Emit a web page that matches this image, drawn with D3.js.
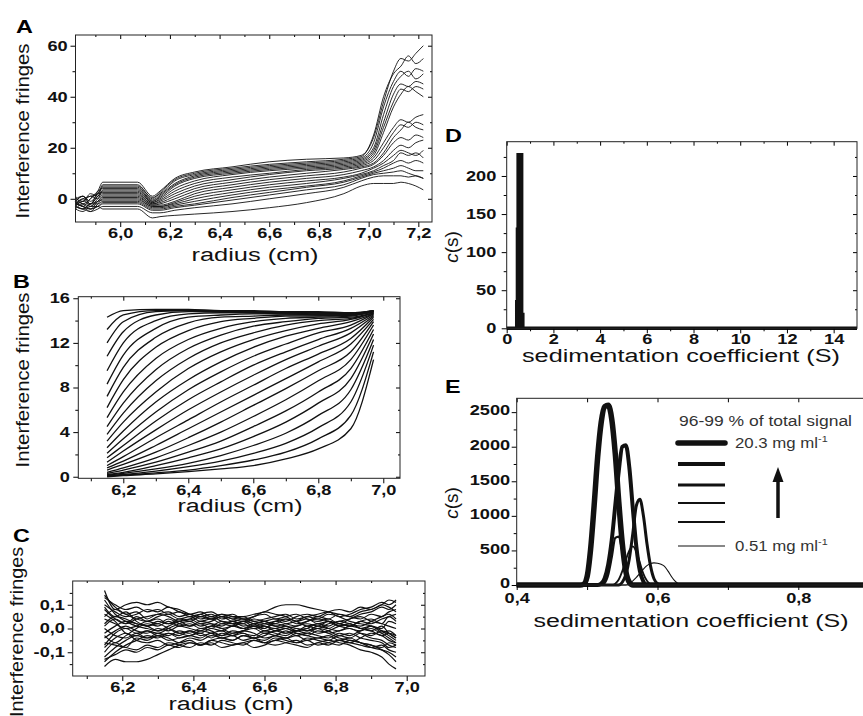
<!DOCTYPE html>
<html>
<head>
<meta charset="utf-8">
<script src="https://cdn.jsdelivr.net/npm/d3@7/dist/d3.min.js"></script>
<style>
  body { margin: 0; background: #fff; }
  svg { display: block; font-family: "Liberation Sans", Arial, sans-serif; }
</style>
</head>
<body>
<svg id="fig" width="863" height="716"></svg>
<script>
// ---- A: raw interference scans (radius in cm, fringes)
const radiusA = [5.82, 5.85, 5.88, 5.91, 5.93, 6.07, 6.13, 6.16, 6.22, 6.3, 6.45,
                 6.6, 6.75, 6.9, 6.97, 7.02, 7.06, 7.1, 7.13, 7.16, 7.19, 7.22];
const scansA = [
  [-1, 1, -2, 3, 6.5, 6.5, 1, 3, 8, 10.5, 12.5, 14.5, 15.5, 16, 17, 24, 38, 50, 55, 54, 57, 60],
  [-2, 0, 1, 2, 5.5, 5.5, 0, 2.5, 7.5, 10, 12, 13.5, 14.5, 15.5, 16.5, 25, 40, 49, 52, 56, 53, 55],
  [0, -1, 2, 1, 5, 5, 0.5, 2, 7, 9.5, 11.5, 13, 14, 15, 16, 22, 36, 46, 50, 48, 51, 50],
  [-1, 1, -1, 2, 4.5, 4.5, -0.5, 1.5, 6, 9, 11, 12.5, 13.5, 14.5, 15.5, 20, 33, 44, 48, 50, 47, 49],
  [1, -2, 0, 3, 4, 4, -1, 1, 5.5, 8.5, 10.5, 12, 13, 14, 15, 19, 30, 41, 45, 44, 46, 45],
  [-2, -1, 1, 0, 3.5, 3.5, -1, 0.5, 5, 8, 10, 11.5, 12.5, 13.5, 14.5, 18, 28, 38, 43, 42, 44, 43],
  [0, 1, -2, 1, 3, 3, -1.5, 0, 4, 7, 9.5, 11, 12, 13, 14, 17, 26, 36, 41, 44, 42, 40],
  [-1, -3, 0, 2, 2.5, 2.5, -1.5, -0.5, 3, 6, 8.5, 10, 11.5, 12.5, 13.5, 16, 22, 28, 31, 30, 32, 33],
  [-3, -1, -2, 1, 2, 2, -2, -1, 2, 5, 7.5, 9.5, 11, 12, 13, 15, 20, 26, 29, 28, 30, 29],
  [-2, 0, -3, 0, 1.5, 1.5, -2, -1.5, 1, 4, 6.5, 8.5, 10, 11.5, 12.5, 14, 18, 24, 27, 30, 28, 27],
  [-1, -2, -4, -1, 1, 1, -2.5, -2, 0, 3, 5.5, 7.5, 9, 10.5, 12, 13.5, 17, 22, 24, 23, 25, 24],
  [-3, -4, -2, -1, 0.5, 0.5, -2.5, -2.5, -1, 2, 4.5, 6.5, 8, 9.5, 11, 12.5, 15, 19, 21, 20, 22, 23],
  [-2, -3, -5, -2, 0, 0, -3, -3, -1.5, 1, 3.5, 5.5, 7, 8.5, 10, 12, 14, 17, 19, 18, 17, 19],
  [-4, -2, -3, -1, -0.5, -0.5, -3, -3, -2, 0, 2.5, 4.5, 6, 8, 9.5, 11, 13, 15, 18, 17, 18, 16],
  [-3, -4, -2, -2, -1, -1, -3.5, -3.5, -2.5, -1, 1.5, 3.5, 5, 7, 9, 10.5, 12, 14, 15, 14, 15, 14],
  [-2, -3, -4, -3, -1.5, -1.5, -4, -4, -3, -2, 0.5, 2.5, 4.5, 6.5, 8.5, 10, 11, 12, 13, 12, 11, 11],
  [-4, -5, -3, -3, -2, -2, -4.5, -4.5, -3.5, -2.5, -0.5, 1.5, 3.5, 5.5, 8, 9.5, 10, 10.5, 11, 10, 9, 8],
  [-3, -4, -5, -4, -3, -3, -5.5, -5.5, -4.5, -3.5, -2, 0, 2, 4.5, 7, 8.5, 9, 9, 9, 8.5, 9, 8],
  [-2, -3, -4, -3, -4, -4, -7.5, -7, -6.5, -6, -5, -3.5, -1.5, 2, 5, 6, 6, 6, 6.5, 6, 5, 3.5]
];

// ---- B: boundaries after noise removal
const radiusB = [6.15, 6.2, 6.3, 6.4, 6.5, 6.6, 6.7, 6.8, 6.9, 6.97];
const scansB = [
  [14.3, 14.9, 15.0, 15.0, 14.9, 14.9, 14.8, 14.8, 14.7, 14.9],
  [13.2, 14.5, 14.9, 14.9, 14.9, 14.8, 14.8, 14.7, 14.7, 14.9],
  [12.0, 13.9, 14.8, 14.9, 14.8, 14.8, 14.7, 14.7, 14.6, 14.9],
  [10.8, 13.0, 14.5, 14.8, 14.8, 14.7, 14.7, 14.6, 14.6, 14.9],
  [9.5, 12.0, 14.0, 14.6, 14.7, 14.7, 14.6, 14.6, 14.6, 14.8],
  [8.3, 10.9, 13.3, 14.3, 14.5, 14.6, 14.6, 14.5, 14.5, 14.8],
  [7.2, 9.8, 12.5, 13.8, 14.3, 14.4, 14.5, 14.5, 14.5, 14.8],
  [6.2, 8.7, 11.6, 13.1, 13.9, 14.2, 14.4, 14.4, 14.5, 14.8],
  [5.3, 7.6, 10.6, 12.3, 13.3, 13.9, 14.2, 14.3, 14.4, 14.8],
  [4.5, 6.6, 9.6, 11.5, 12.7, 13.5, 13.9, 14.2, 14.3, 14.7],
  [3.8, 5.7, 8.6, 10.6, 12.0, 12.9, 13.6, 14.0, 14.2, 14.7],
  [3.2, 4.9, 7.6, 9.7, 11.2, 12.3, 13.1, 13.7, 14.1, 14.7],
  [2.6, 4.1, 6.7, 8.7, 10.3, 11.6, 12.6, 13.3, 13.9, 14.6],
  [2.1, 3.4, 5.8, 7.8, 9.4, 10.8, 11.9, 12.9, 13.6, 14.6],
  [1.7, 2.8, 5.0, 6.9, 8.5, 10.0, 11.2, 12.3, 13.3, 14.5],
  [1.3, 2.3, 4.2, 6.0, 7.6, 9.1, 10.5, 11.7, 12.9, 14.4],
  [1.0, 1.8, 3.5, 5.1, 6.7, 8.2, 9.7, 11.0, 12.4, 14.3],
  [0.8, 1.4, 2.8, 4.3, 5.8, 7.3, 8.8, 10.3, 11.9, 14.1],
  [0.6, 1.1, 2.2, 3.5, 4.9, 6.4, 7.9, 9.5, 11.2, 13.9],
  [0.4, 0.8, 1.7, 2.8, 4.0, 5.4, 6.9, 8.6, 10.5, 13.6],
  [0.3, 0.6, 1.3, 2.2, 3.2, 4.5, 5.9, 7.6, 9.7, 13.2],
  [0.2, 0.4, 1.0, 1.7, 2.5, 3.6, 4.9, 6.6, 8.8, 12.8],
  [0.15, 0.3, 0.7, 1.2, 1.9, 2.8, 3.9, 5.5, 7.8, 12.3],
  [0.1, 0.2, 0.5, 0.9, 1.4, 2.1, 3.0, 4.4, 6.7, 11.8],
  [0.05, 0.15, 0.35, 0.6, 1.0, 1.5, 2.2, 3.4, 5.5, 11.2],
  [0.0, 0.1, 0.25, 0.45, 0.7, 1.0, 1.6, 2.5, 4.3, 10.5]
];

// ---- C: fit residuals, in 0.01 fringes
const radiusC = [6.15, 6.18, 6.21, 6.24, 6.27, 6.30, 6.33, 6.36, 6.39, 6.42, 6.45, 6.48, 6.51, 6.54,
                 6.57, 6.60, 6.63, 6.66, 6.69, 6.72, 6.75, 6.78, 6.81, 6.84, 6.87, 6.90, 6.93, 6.95, 6.97];
const residC = [
  [16, 8, 10, 11, 10, 11, 9, 8, 6, 5, 6, 4, 5, 5, 6, 7, 9, 10, 10, 9, 8, 7, 6, 5, 7, 8, 10, 12, 11],
  [-16, -13, -14, -14, -13, -11, -9, -7, -6, -7, -5, -6, -7, -6, -5, -6, -7, -6, -5, -7, -6, -5, -6, -7, -9, -10, -12, -15, -17],
  [12, 6, 3, 1, 0, -1, 1, 3, 4, 2, 3, 5, 4, 3, 5, 6, 4, 5, 6, 4, 3, 4, 2, 4, 6, 7, 9, 8, 10],
  [-12, -8, -5, -3, -4, -2, -3, -1, -2, 0, -1, -3, -2, -1, 0, -2, -1, 0, -2, -3, -1, -2, -4, -5, -6, -8, -9, -10, -12],
  [8, 4, 2, 4, 5, 6, 7, 5, 6, 4, 5, 3, 2, 3, 1, 2, 3, 4, 2, 3, 5, 4, 6, 5, 4, 6, 5, 7, 8],
  [-8, -4, -2, -5, -6, -5, -7, -6, -4, -5, -3, -4, -5, -3, -4, -2, -3, -4, -3, -5, -4, -5, -3, -4, -2, -3, -1, -2, -4],
  [4, 2, 0, 1, 3, 2, 4, 2, 1, 3, 2, 0, 1, 2, 0, 1, -1, 0, 1, 2, 1, 3, 2, 1, 3, 2, 4, 5, 6],
  [-4, -1, 1, -1, -2, 0, -1, 1, 0, -1, 1, 0, -2, -1, 1, 0, 2, 1, 0, -1, 0, -2, -1, 0, -2, -4, -5, -7, -8],
  [14, 9, 6, 4, 3, 5, 6, 4, 5, 3, 4, 2, 3, 1, 2, 3, 1, 2, 3, 5, 4, 6, 5, 3, 2, 1, -1, -3, -5],
  [-14, -10, -7, -5, -3, -4, -2, -3, -1, -2, 0, -1, 1, 0, 2, 1, 0, 1, -1, 0, 2, 1, 3, 2, 1, 3, 5, 6, 4],
  [2, 5, 4, 2, 1, -1, 0, -2, -3, -1, -2, -4, -3, -5, -4, -6, -5, -4, -6, -5, -7, -6, -5, -6, -7, -8, -7, -9, -10],
  [10, 7, 5, 6, 8, 7, 9, 7, 6, 7, 5, 6, 4, 5, 3, 4, 5, 6, 4, 5, 6, 7, 5, 6, 8, 9, 11, 10, 12],
  [-6, -7, -8, -9, -7, -8, -6, -7, -8, -6, -7, -5, -6, -7, -5, -6, -4, -5, -6, -4, -5, -6, -7, -5, -6, -7, -8, -6, -7],
  [6, 3, -2, -3, -1, -2, 0, 2, 3, 1, 2, 1, 3, 2, 4, 3, 2, 4, 3, 1, 2, 0, -1, 1, 0, -1, -3, -2, -3],
  [-2, 1, 3, 2, 1, 3, 2, 4, 3, 5, 4, 6, 5, 4, 3, 2, 1, 0, -1, 1, 0, 2, 3, 4, 5, 3, 2, 1, 0],
  [0, -3, -4, -2, -4, -3, -5, -4, -3, -4, -2, -3, -1, -2, -3, -1, -2, -3, -1, -2, 0, -1, -3, -2, -4, -5, -6, -8, -7],
  [9, 5, 7, 3, 1, 2, 0, -2, -1, -3, -2, -1, -3, -2, -4, -3, -1, -2, 0, -1, 1, 0, 2, 1, 3, 4, 2, 5, 3],
  [-10, -6, -8, -4, -5, -3, -4, -6, -5, -7, -6, -8, -7, -6, -8, -7, -5, -6, -7, -8, -6, -7, -5, -6, -4, -2, -3, -5, -6],
  [5, 8, 6, 7, 4, 6, 5, 3, 4, 6, 7, 5, 6, 4, 5, 7, 6, 5, 3, 4, 2, 3, 1, 2, 0, -1, 1, -2, -4],
  [-3, -6, -3, 0, 2, 1, 3, 1, 2, 0, 1, 3, 2, 0, 1, -1, 0, -2, -1, 0, -2, -1, 1, 2, 0, 1, -2, -4, -6],
  [13, 10, 8, 9, 7, 8, 6, 7, 5, 6, 4, 5, 3, 4, 2, 3, 4, 3, 5, 6, 5, 7, 8, 7, 9, 8, 10, 9, 7],
  [-13, -11, -9, -10, -8, -9, -7, -8, -6, -7, -5, -4, -5, -3, -4, -5, -3, -4, -2, -3, -4, -3, -5, -4, -6, -7, -9, -11, -14],
  [1, 4, 2, 5, 3, 4, 2, 3, 1, 2, 0, 2, 1, 3, 2, 0, 3, 2, 1, 3, 4, 3, 1, 0, -1, 1, 0, 3, 2],
  [-7, -2, 0, -2, -1, -3, -2, -4, -3, -2, -4, -2, -3, -1, -2, -4, -3, -1, -3, -2, -3, -4, -2, -3, -1, 0, -2, -1, -3]
];

// ---- D: c(s) over the full range
const sD = [0, 0.43, 0.43, 0.46, 0.46, 0.49, 0.49, 0.64, 0.64, 0.69, 0.69, 15];
const cD = [0, 0, 35, 35, 130, 130, 228, 228, 18, 18, 0, 0];

// ---- E: c(s) for six loading concentrations (thickest = 20.3 mg/ml)
const sE = [0.40, 0.49, 0.495, 0.50, 0.505, 0.51, 0.515, 0.52, 0.525, 0.53, 0.535, 0.54, 0.545, 0.55,
            0.555, 0.56, 0.565, 0.57, 0.575, 0.58, 0.585, 0.59, 0.595, 0.60, 0.605, 0.61, 0.615, 0.62,
            0.625, 0.63, 0.635, 0.64, 0.65, 0.90];
const cE = [
  [0, 0, 10, 120, 520, 1150, 1850, 2350, 2580, 2600, 2400, 1900, 1200, 600, 200, 40, 0,
   0, 0, 0, 0, 0, 0, 0, 0, 0, 0, 0, 0, 0, 0, 0, 0, 0],
  [0, 0, 0, 0, 0, 0, 0, 20, 100, 300, 650, 1150, 1650, 2000, 2020, 1700, 1100, 550, 200, 50, 0,
   0, 0, 0, 0, 0, 0, 0, 0, 0, 0, 0, 0, 0],
  [0, 0, 0, 0, 0, 0, 0, 0, 0, 0, 0, 0, 0, 40, 150, 380, 750, 1150, 1240, 1000, 600, 280, 90, 20, 0,
   0, 0, 0, 0, 0, 0, 0, 0, 0],
  [0, 0, 0, 0, 0, 0, 0, 0, 30, 150, 400, 680, 700, 480, 200, 50, 0,
   0, 0, 0, 0, 0, 0, 0, 0, 0, 0, 0, 0, 0, 0, 0, 0, 0],
  [0, 0, 0, 0, 0, 0, 0, 0, 0, 0, 0, 20, 80, 200, 360, 500, 560, 480, 320, 160, 60, 10, 0,
   0, 0, 0, 0, 0, 0, 0, 0, 0, 0, 0],
  [0, 0, 0, 0, 0, 0, 0, 0, 0, 0, 0, 0, 0, 0, 0, 20, 60, 110, 170, 230, 280, 310, 320, 315, 300,
   270, 200, 120, 55, 15, 0, 0, 0, 0]
];
const concLabels = ["20.3 mg ml", "0.51 mg ml"];
const legendTitle = "96-99 % of total signal";

// styles
const widthsE = [5.5, 4, 3, 2.2, 1.8, 1.1];
const legendY = [443, 464, 485, 503, 522, 546];

const svg = d3.select("#fig");
const comma1 = (d) => d3.format(".1f")(d).replace(".", ",").replace("\u2212", "-");

function frame(x, y, o) {
  const g = svg.append("g");
  const [l, r] = x.range();
  const [b, t] = y.range();
  const put = (gen, tx, ty) => g.append("g")
    .attr("transform", `translate(${tx},${ty})`)
    .call(gen)
    .call((s) => s.select(".domain").remove());

  const xAxis = put(d3.axisBottom(x).tickValues(o.xMajor).tickSize(5).tickPadding(o.xPad).tickFormat(o.xFmt), 0, b);
  put(d3.axisBottom(x).tickValues(o.xMinor).tickSize(3).tickFormat(""), 0, b);
  const yAxis = put(d3.axisLeft(y).tickValues(o.yMajor).tickSize(5).tickPadding(o.yPad).tickFormat(o.yFmt), l, 0);
  put(d3.axisLeft(y).tickValues(o.yMinor).tickSize(3).tickFormat(""), l, 0);
  put(d3.axisTop(x).tickValues(o.xMajor).tickSize(-4).tickFormat(""), 0, t);
  put(d3.axisTop(x).tickValues(o.xMinor).tickSize(-2).tickFormat(""), 0, t);
  put(d3.axisRight(y).tickValues(o.yMajor).tickSize(-4).tickFormat(""), r, 0);
  put(d3.axisRight(y).tickValues(o.yMinor).tickSize(-2).tickFormat(""), r, 0);

  [xAxis, yAxis].forEach((s) => {
    s.attr("font-family", null).attr("font-size", null);
    s.selectAll("text")
      .attr("font-size", 14)
      .attr("font-weight", "bold")
      .attr("fill", "#111")
      .attr("transform", "scale(1.3,1)");
  });
  if (o.yDy) yAxis.selectAll("text").attr("dy", o.yDy);

  g.append("rect")
    .attr("x", l).attr("y", t)
    .attr("width", r - l).attr("height", b - t)
    .attr("fill", "none").attr("stroke", "#222").attr("stroke-width", 1);
}

function curves(x, y, xs, rows, width, scaleVal = 1) {
  const line = d3.line()
    .x((d, i) => x(xs[i]))
    .y((d) => y(d * scaleVal))
    .curve(d3.curveMonotoneX);
  svg.append("g")
    .selectAll("path")
    .data(rows)
    .join("path")
    .attr("d", line)
    .attr("fill", "none")
    .attr("stroke", "#111")
    .attr("stroke-width", width)
    .attr("stroke-linejoin", "round");
}

function title(x, y, str, len) {
  svg.append("text")
    .attr("x", x).attr("y", y)
    .attr("text-anchor", "middle")
    .attr("font-size", 18)
    .attr("fill", "#111")
    .attr("textLength", len)
    .attr("lengthAdjust", "spacingAndGlyphs")
    .text(str);
}

function yTitle(x, y, str, len) {
  svg.append("text")
    .attr("transform", `translate(${x},${y}) rotate(-90)`)
    .attr("text-anchor", "middle")
    .attr("font-size", 19)
    .attr("fill", "#111")
    .attr("textLength", len)
    .attr("lengthAdjust", "spacingAndGlyphs")
    .text(str);
}

function cTitle(x, y) {
  const t = svg.append("text")
    .attr("transform", `translate(${x},${y}) rotate(-90)`)
    .attr("text-anchor", "middle")
    .attr("font-size", 19)
    .attr("fill", "#111");
  t.append("tspan").attr("font-style", "italic").text("c");
  t.append("tspan").text("(s)");
}

function letter(x, y, str) {
  svg.append("text")
    .attr("transform", `translate(${x},${y}) scale(1.3,1)`)
    .attr("font-size", 18)
    .attr("font-weight", "bold")
    .text(str);
}

// ---------- Panel A
const xA = d3.scaleLinear().domain([5.82, 7.255]).range([75.5, 432]);
const yA = d3.scaleLinear().domain([-9.1, 64.2]).range([222, 35]);
curves(xA, yA, radiusA, scansA, 0.9);
frame(xA, yA, {
  xMajor: [6.0, 6.2, 6.4, 6.6, 6.8, 7.0, 7.2], xMinor: [5.9, 6.1, 6.3, 6.5, 6.7, 6.9, 7.1],
  yMajor: [0, 20, 40, 60], yMinor: [10, 30, 50],
  xFmt: comma1, yFmt: d3.format("d"), xPad: 1, yPad: 1
});
letter(16, 33, "A");
yTitle(29, 131, "Interference fringes", 175);
title(255, 261, "radius (cm)", 127);

// ---------- Panel B
const xB = d3.scaleLinear().domain([6.0615, 7.0514]).range([78.3, 400]);
const yB = d3.scaleLinear().domain([-0.14, 16.14]).range([478.3, 296.7]);
curves(xB, yB, radiusB, scansB, 1.3);
frame(xB, yB, {
  xMajor: [6.2, 6.4, 6.6, 6.8, 7.0], xMinor: [6.1, 6.3, 6.5, 6.7, 6.9],
  yMajor: [0, 4, 8, 12, 16], yMinor: [2, 6, 10, 14],
  xFmt: comma1, yFmt: d3.format("d"), xPad: 1.5, yPad: 1.5
});
letter(13, 288, "B");
yTitle(29, 380, "Interference fringes", 175);
title(240, 512, "radius (cm)", 125);

// ---------- Panel C
const xC = d3.scaleLinear().domain([6.0605, 7.0515]).range([72.7, 425]);
const yC = d3.scaleLinear().domain([-0.2, 0.2]).range([676, 581]);
curves(xC, yC, radiusC, residC, 1.2, 0.01);
frame(xC, yC, {
  xMajor: [6.2, 6.4, 6.6, 6.8, 7.0], xMinor: [6.1, 6.3, 6.5, 6.7, 6.9],
  yMajor: [-0.1, 0, 0.1], yMinor: [-0.15, -0.05, 0.05, 0.15],
  xFmt: comma1, yFmt: comma1, xPad: 1, yPad: 1
});
letter(13, 542, "C");
yTitle(23, 632, "Interference fringes", 170);
title(231, 710, "radius (cm)", 125);

// ---------- Panel D
const xD = d3.scaleLinear().domain([0, 15]).range([506.7, 857]);
const yD = d3.scaleLinear().domain([0, 245]).range([328.3, 141.7]);
svg.append("path")
  .datum(cD)
  .attr("d", d3.area().x((d, i) => xD(sD[i])).y0(yD(0)).y1((d) => yD(d)))
  .attr("fill", "#111")
  .attr("stroke", "#111")
  .attr("stroke-width", 3.5)
  .attr("stroke-linejoin", "miter");
frame(xD, yD, {
  xMajor: [0, 2, 4, 6, 8, 10, 12, 14], xMinor: [1, 3, 5, 7, 9, 11, 13],
  yMajor: [0, 50, 100, 150, 200], yMinor: [25, 75, 125, 175, 225],
  xFmt: d3.format("d"), yFmt: d3.format("d"), xPad: 1, yPad: 3
});
letter(445, 142, "D");
cTitle(458, 247);
title(681, 362, "sedimentation coefficient (S)", 318);

// ---------- Panel E
const xE = d3.scaleLinear().domain([0.4, 0.9]).range([516.7, 868.7]);
const yE = d3.scaleLinear().domain([0, 2700]).range([585, 398.3]);
const lineE = d3.line().x((d, i) => xE(sE[i])).y((d) => yE(d)).curve(d3.curveMonotoneX);
svg.append("g")
  .selectAll("path")
  .data(cE)
  .join("path")
  .attr("d", lineE)
  .attr("fill", "none")
  .attr("stroke", "#111")
  .attr("stroke-width", (d, i) => widthsE[i])
  .attr("stroke-linejoin", "round");
frame(xE, yE, {
  xMajor: [0.4, 0.5, 0.6, 0.7, 0.8, 0.9], xMinor: [],
  yMajor: [0, 500, 1000, 1500, 2000, 2500], yMinor: [250, 750, 1250, 1750, 2250],
  xFmt: (d) => (Math.round(d * 10) % 2 === 0 ? comma1(d) : ""), yFmt: d3.format("d"),
  xPad: 3.5, yPad: 0, yDy: "0.2em"
});
letter(445, 393, "E");
cTitle(458, 503);
title(691, 627, "sedimentation coefficient (S)", 315);

// legend of E
const leg = svg.append("g").attr("fill", "#333");
leg.append("text")
  .attr("x", 679).attr("y", 426)
  .attr("font-size", 14)
  .attr("textLength", 173)
  .attr("lengthAdjust", "spacingAndGlyphs")
  .text(legendTitle);
leg.selectAll("line")
  .data(widthsE)
  .join("line")
  .attr("x1", 678).attr("x2", 725)
  .attr("y1", (d, i) => legendY[i]).attr("y2", (d, i) => legendY[i])
  .attr("stroke", "#111")
  .attr("stroke-width", (d) => d)
  .attr("stroke-linecap", (d, i) => (i === 0 ? "round" : "butt"));
[[concLabels[0], legendY[0] + 5], [concLabels[1], legendY[5] + 5]].forEach(([txt, yy]) => {
  const t = leg.append("g")
    .attr("transform", `translate(735,${yy}) scale(1.2,1)`)
    .append("text")
    .attr("font-size", 14);
  t.append("tspan").text(txt);
  t.append("tspan").attr("font-size", 9).attr("dy", -6).text("-1");
});
// arrow pointing to higher concentration
leg.append("line")
  .attr("x1", 778).attr("x2", 778).attr("y1", 518).attr("y2", 478)
  .attr("stroke", "#111").attr("stroke-width", 3.5);
leg.append("path")
  .attr("d", "M778,467 L772.5,482 L783.5,482 Z")
  .attr("fill", "#111");
</script>
</body>
</html>
